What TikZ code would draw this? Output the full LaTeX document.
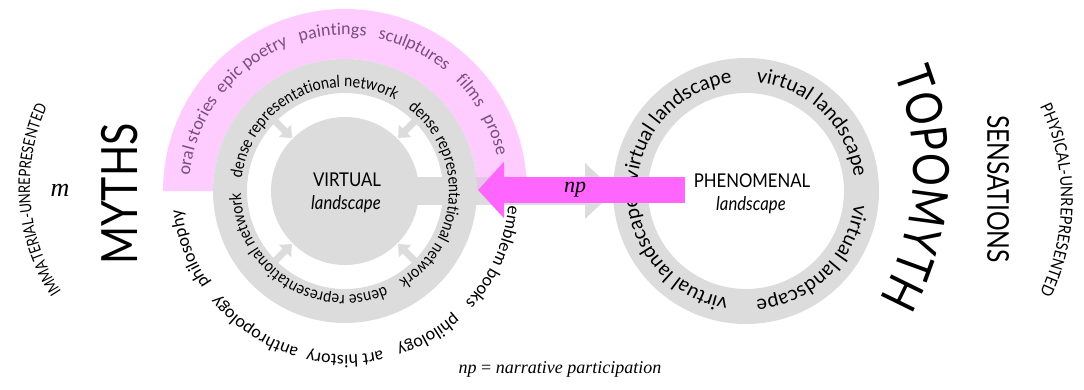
\documentclass[tikz,border=0pt]{standalone}
\usepackage{fontspec}
\setmainfont{Lato}
\newfontfamily\gill{Lato}
\newfontfamily\gillc[FakeStretch=0.88]{Lato}
\newfontfamily\gillx[FakeStretch=0.82]{Lato}
\newfontfamily\calib{Carlito}
\newfontfamily\garam{Liberation Serif}
\usetikzlibrary{decorations.text,arrows.meta}
\definecolor{ringgray}{HTML}{DCDCDC}
\definecolor{bandpink}{HTML}{FFCCFF}
\definecolor{arrowpink}{HTML}{FF66FF}
\definecolor{overlap}{HTML}{E6C6E6}
\definecolor{pinkink}{HTML}{7A4E7A}

% text set clockwise on a circle, centred on a given angle
% #1 centre, #2 baseline radius, #3 middle angle, #4 font/colour, #5 text
\newcommand\arclabel[5]{%
  \path[decorate,decoration={text along path,text align=center,text={|#4|#5}}]
    (#1) ++(#3+80:#2) arc[start angle=#3+80,end angle=#3-80,radius=#2];}

% upper half band around the virtual landscape
\newcommand\mediaband{%
  ([shift={(0:182)}]L) arc[start angle=0,end angle=180,radius=182]
  -- ([shift={(180:132)}]L) arc[start angle=180,end angle=0,radius=132] -- cycle}

\tikzset{
  ringfill/.style={fill=ringgray,even odd rule},
  inward/.style={draw=ringgray,line width=7pt,-{Triangle[width=17pt,length=10pt]}},
}

\begin{document}
\begin{tikzpicture}[x=1pt,y=1pt]
\useasboundingbox (0,0) rectangle (1084,389);
\coordinate (L) at (345,198);
\coordinate (R) at (746,198);
\coordinate (shaftEnd) at (615,198);
\coordinate (npStart) at (685,199);
\coordinate (npTip) at (478,199);

% pink media band
\fill[bandpink] \mediaband;

% virtual landscape: ring, core and inward arrows
\fill[ringfill] (L) circle[radius=132] (L) circle[radius=98];
\fill[ringgray] (L) circle[radius=74];
\foreach \a in {45,135,225,315}
  {\draw[inward] ([shift={(\a:99)}]L) -- ([shift={(\a:75)}]L);}

% grey link towards the phenomenal landscape
\draw[ringgray,line width=28pt,-{Triangle[width=54pt,length=30pt]}] (L) -- (shaftEnd);
\begin{scope}
  \clip (345,184) rectangle (585,212);
  \fill[overlap] \mediaband;
\end{scope}

% phenomenal landscape ring
\fill[ringfill] (R) circle[radius=133] (R) circle[radius=98];

% ring texts
\foreach \m in {117,-3,-123}
  {\arclabel{L}{104}{\m}{\gillc\fontsize{16.5}{19}\selectfont}{dense representational network}}
\foreach \m in {136,46,-46,-138}
  {\arclabel{R}{109}{\m}{\gill\fontsize{20}{24}\selectfont}{virtual landscape}}

% media on the band
\arclabel{L}{156}{159.5}{\calib\fontsize{18}{21}\selectfont\color{pinkink}}{oral stories}
\arclabel{L}{156}{126.5}{\calib\fontsize{18}{21}\selectfont\color{pinkink}}{epic poetry}
\arclabel{L}{156}{94.5}{\calib\fontsize{18}{21}\selectfont\color{pinkink}}{paintings}
\arclabel{L}{156}{64}{\calib\fontsize{18}{21}\selectfont\color{pinkink}}{sculptures}
\arclabel{L}{156}{38.5}{\calib\fontsize{18}{21}\selectfont\color{pinkink}}{films}
\arclabel{L}{156}{20.5}{\calib\fontsize{18}{21}\selectfont\color{pinkink}}{prose}

% disciplines below
\arclabel{L}{164}{-24}{\calib\fontsize{18}{21}\selectfont}{emblem books}
\arclabel{L}{164}{-60}{\calib\fontsize{18}{21}\selectfont}{philology}
\arclabel{L}{164}{-90}{\calib\fontsize{18}{21}\selectfont}{art history}
\arclabel{L}{164}{-123.5}{\calib\fontsize{18}{21}\selectfont}{anthropology}
\arclabel{L}{164}{-159.5}{\calib\fontsize{18}{21}\selectfont}{philosophy}

% narrative participation arrow
\draw[arrowpink,line width=26pt,-{Triangle[width=55pt,length=26pt]}] (npStart) -- (npTip);
\node (np) at (575,199) {\garam\itshape\fontsize{22}{22}\selectfont np};

% centre labels
\node (virt) at (347,209) {\gillc\fontsize{19}{19}\selectfont VIRTUAL};
\node (virtl) at (346,185) {\gillc\itshape\fontsize{19}{19}\selectfont landscape};
\node (phen) at (752,208) {\gillc\fontsize{19}{19}\selectfont PHENOMENAL};
\node (phenl) at (751,184) {\gillc\itshape\fontsize{19}{19}\selectfont landscape};

% outer labels
\node[rotate=90] (myths) at (120,195) {\gillx\fontsize{50}{50}\selectfont MYTHS};
\node (m) at (60,199) {\garam\itshape\fontsize{26}{26}\selectfont m};
\arclabel{223,203}{193}{184.4}{\gillx\fontsize{16}{19}\selectfont}{IMMATERIAL-UNREPRESENTED}
\arclabel{651,219}{262}{-4}{\gillx\fontsize{50}{50}\selectfont}{TOPOMYTH}
\node[rotate=-90] (sens) at (998,200) {\gillx\fontsize{30}{30}\selectfont SENSATIONS};
\arclabel{842,189}{219}{0}{\gillc\fontsize{16.5}{19}\selectfont}{PHYSICAL-UNREPRESENTED}

% legend
\node (legend) at (560,20) {\garam\fontsize{18}{20}\selectfont\textit{np} = \textit{narrative participation}};
\end{tikzpicture}
\end{document}
